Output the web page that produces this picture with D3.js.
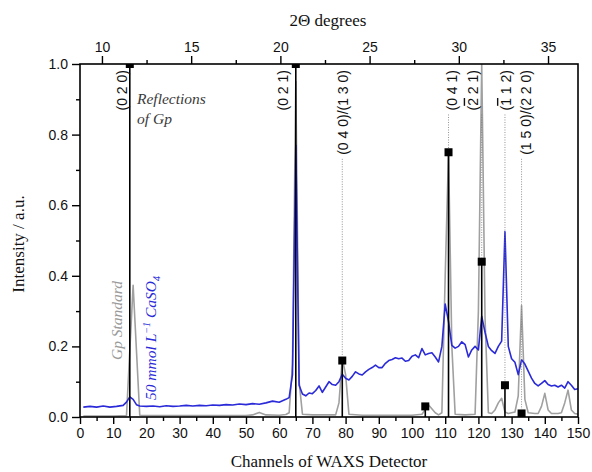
<!DOCTYPE html>
<html>
<head>
<meta charset="utf-8">
<script src="https://cdn.jsdelivr.net/npm/d3@7/dist/d3.min.js"></script>
<style>
  html, body { margin: 0; padding: 0; background: #fff; }
  svg { display: block; }
</style>
</head>
<body>
<svg id="chart" width="592" height="472"></svg>
<script>
// ---------------- DATA ----------------
// Gp standard (gray line): channel / normalised intensity
const gpChannels = [1, 6, 10, 14, 16, 18, 22, 30, 40, 50, 52, 54, 56, 60, 62, 63, 64, 65, 66, 67, 70, 77, 78, 79, 80, 81, 85, 90, 100, 103, 105, 107, 108, 109, 110, 111, 112, 113, 116, 119, 120, 121, 122, 123, 124, 125, 126, 127, 128, 129, 130, 131, 132, 133, 134, 135, 137, 138, 139, 140, 141, 142, 144, 145, 146, 147, 148, 149, 150];
const gpValues   = [0.003, 0.003, 0.003, 0.004, 0.373, 0.005, 0.004, 0.004, 0.004, 0.004, 0.006, 0.013, 0.006, 0.005, 0.007, 0.012, 0.15, 0.95, 0.1, 0.008, 0.006, 0.006, 0.04, 0.166, 0.12, 0.008, 0.005, 0.005, 0.005, 0.008, 0.034, 0.012, 0.006, 0.012, 0.4, 0.75, 0.2, 0.008, 0.006, 0.008, 0.3, 1.0, 0.28, 0.012, 0.01, 0.02, 0.04, 0.053, 0.014, 0.01, 0.012, 0.014, 0.06, 0.316, 0.05, 0.012, 0.01, 0.01, 0.03, 0.067, 0.02, 0.01, 0.01, 0.012, 0.04, 0.076, 0.02, 0.01, 0.008];

// 50 mmol/L CaSO4 sample (blue line)
const caChannels = [1, 3, 5, 7, 9, 11, 13, 14, 15, 16, 17, 18, 20, 22, 24, 26, 28, 30, 32, 34, 36, 38, 40, 42, 44, 46, 48, 50, 52, 54, 56, 58, 60, 62, 63, 64, 65, 66, 67, 68, 69, 70, 71, 72, 73, 74, 75, 76, 77, 78, 79, 80, 81, 82, 83, 84, 85, 86, 87, 88, 89, 90, 91, 92, 93, 94, 95, 96, 97, 98, 99, 100, 101, 102, 103, 104, 105, 106, 107, 108, 109, 110, 111, 112, 113, 114, 115, 116, 117, 118, 119, 120, 121, 122, 123, 124, 125, 126, 127, 128, 129, 130, 131, 132, 133, 134, 135, 136, 137, 138, 139, 140, 141, 142, 143, 144, 145, 146, 147, 148, 149, 150];
const caValues   = [0.028, 0.03, 0.028, 0.031, 0.028, 0.03, 0.033, 0.042, 0.057, 0.05, 0.035, 0.031, 0.03, 0.031, 0.029, 0.032, 0.03, 0.031, 0.033, 0.031, 0.033, 0.032, 0.034, 0.033, 0.035, 0.034, 0.037, 0.035, 0.038, 0.036, 0.04, 0.045, 0.042, 0.05, 0.055, 0.12, 0.77, 0.09, 0.065, 0.06, 0.068, 0.066, 0.075, 0.088, 0.07, 0.085, 0.1, 0.092, 0.09, 0.1, 0.121, 0.11, 0.105, 0.115, 0.128, 0.122, 0.119, 0.128, 0.135, 0.14, 0.147, 0.14, 0.14, 0.152, 0.16, 0.163, 0.168, 0.165, 0.167, 0.158, 0.16, 0.172, 0.176, 0.168, 0.194, 0.176, 0.18, 0.182, 0.17, 0.156, 0.2, 0.32, 0.27, 0.203, 0.195, 0.2, 0.213, 0.205, 0.17, 0.19, 0.2, 0.19, 0.285, 0.24, 0.2, 0.188, 0.18, 0.2, 0.215, 0.525, 0.2, 0.165, 0.155, 0.12, 0.162, 0.15, 0.13, 0.11, 0.095, 0.088, 0.095, 0.103, 0.092, 0.088, 0.09, 0.085, 0.09, 0.082, 0.1, 0.09, 0.078, 0.08];

// Reflections of Gp (stick pattern)
const refChannels = [15, 65, 79, 104, 111, 121, 128, 133];
const refValues   = [1.0, 1.0, 0.16, 0.03, 0.75, 0.44, 0.09, 0.01];

// hkl labels: label text parts [text, overline?] and reflection channel
const hklChannels = [15, 65, 79, 111, 121, 128, 133];
const hklLabels = [
  [["(0 2 0)", false]],
  [["(0 2 1)", false]],
  [["(0 4 0)/(1 3 0)", false]],
  [["(0 4 1)", false]],
  [["(", false], ["2", true], [" 2 1)", false]],
  [["(", false], ["1", true], [" 1 2)", false]],
  [["(1 5 0)/(2 2 0)", false]]
];
const hklDotted = [false, false, true, true, true, true, true];

// axis ticks
const xTicks = d3.range(0, 151, 10);
const xMinor = d3.range(5, 150, 10);
const yTicks = [0, 0.2, 0.4, 0.6, 0.8, 1.0];
const yMinor = [0.1, 0.3, 0.5, 0.7, 0.9];
const tTicks = [10, 15, 20, 25, 30, 35];
const tMinor = [12.5, 17.5, 22.5, 27.5, 32.5];

// ---------------- LAYOUT ----------------
const L = 80, R = 578, T = 64, B = 417;
const svg = d3.select("#chart");
const x = d3.scaleLinear().domain([0, 150]).range([L, R]);
const y = d3.scaleLinear().domain([0, 1]).range([B, T]);
const x2 = d3.scaleLinear().domain([8.77, 36.68]).range([L, R]);

const sans = "'Liberation Sans', Arial, sans-serif";
const serif = "'Liberation Serif', 'DejaVu Serif', serif";

svg.append("defs").append("clipPath").attr("id", "clip")
  .append("rect").attr("x", L).attr("y", T).attr("width", R - L).attr("height", B - T);

const plot = svg.append("g").attr("clip-path", "url(#clip)");

const line = d3.line().x(d => x(d[0])).y(d => y(d[1]));

plot.append("path")
  .datum(gpChannels.map((c, i) => [c, gpValues[i]]))
  .attr("d", line).attr("fill", "none").attr("stroke", "#a0a0a0").attr("stroke-width", 1.6)
  .attr("stroke-linejoin", "round");

plot.append("path")
  .datum(caChannels.map((c, i) => [c, caValues[i]]))
  .attr("d", line).attr("fill", "none").attr("stroke", "#2a2ad8").attr("stroke-width", 1.6)
  .attr("stroke-linejoin", "round");

// sticks
plot.selectAll("line.stick").data(refChannels).enter().append("line")
  .attr("x1", d => x(d)).attr("x2", d => x(d))
  .attr("y1", y(0)).attr("y2", (d, i) => y(refValues[i]))
  .attr("stroke", "#000").attr("stroke-width", 1.6);

plot.selectAll("rect.mk").data(refChannels).enter().append("rect")
  .attr("x", d => x(d) - 4).attr("y", (d, i) => y(refValues[i]) - 4)
  .attr("width", 8).attr("height", 8).attr("fill", "#000");

// hkl labels
const labelTop = 70;
const labelDx = [-3, -8, 6, 8, -4, 6, 9];
hklLabels.forEach((parts, i) => {
  const lx = x(hklChannels[i]) + labelDx[i];
  const t = svg.append("text")
    .attr("transform", `translate(${lx},${labelTop}) rotate(-90)`)
    .attr("text-anchor", "end")
    .attr("font-family", sans).attr("font-size", 14).attr("fill", "#111");
  parts.forEach(p => {
    const ts = t.append("tspan").text(p[0]);
    if (p[1]) ts.style("text-decoration", "overline");
  });
  if (hklDotted[i]) {
    const len = t.node().getComputedTextLength();
    const ri = refChannels.indexOf(hklChannels[i]);
    svg.append("line")
      .attr("x1", x(hklChannels[i])).attr("x2", x(hklChannels[i]))
      .attr("y1", labelTop + len + 4).attr("y2", y(refValues[ri]) - 4)
      .attr("stroke", "#777").attr("stroke-width", 0.8).attr("stroke-dasharray", "1,1.5");
  }
});

// in-plot legend texts
const refl = svg.append("text").attr("font-family", serif).attr("font-style", "italic")
  .attr("font-size", 15.5).attr("fill", "#3a3a3a");
refl.append("tspan").attr("x", 137).attr("y", 104).text("Reflections");
refl.append("tspan").attr("x", 137).attr("y", 124).text("of Gp");

svg.append("text").attr("transform", "translate(122,360) rotate(-90)")
  .attr("font-family", serif).attr("font-style", "italic").attr("font-size", 15.5)
  .attr("fill", "#9a9a9a").text("Gp Standard");

const ca = svg.append("text").attr("transform", "translate(156,400) rotate(-90)")
  .attr("font-family", serif).attr("font-style", "italic").attr("font-size", 15.5)
  .attr("fill", "#2a2ad8");
ca.append("tspan").text("50 mmol L");
ca.append("tspan").attr("dy", -6).attr("font-size", 10).text("\u22121");
ca.append("tspan").attr("dy", 6).text(" CaSO");
ca.append("tspan").attr("dy", 4).attr("font-size", 10).text("4");

// ---------------- AXES ----------------
function styleAxis(g) {
  g.select(".domain").remove();
  g.selectAll(".tick line").attr("stroke", "#000").attr("stroke-width", 1.4);
  g.selectAll(".tick text").attr("font-family", sans).attr("font-size", 14).attr("fill", "#111");
}

// bottom
svg.append("g").attr("transform", `translate(0,${B})`)
  .call(d3.axisBottom(x).tickValues(xTicks).tickSize(7).tickPadding(4).tickFormat(d3.format("d")))
  .call(styleAxis);
svg.append("g").attr("transform", `translate(0,${B})`)
  .call(d3.axisBottom(x).tickValues(xMinor).tickSize(4).tickFormat(""))
  .call(styleAxis);
// left
svg.append("g").attr("transform", `translate(${L},0)`)
  .call(d3.axisLeft(y).tickValues(yTicks).tickSize(8).tickPadding(4).tickFormat(d3.format(".1f")))
  .call(styleAxis);
svg.append("g").attr("transform", `translate(${L},0)`)
  .call(d3.axisLeft(y).tickValues(yMinor).tickSize(4).tickFormat(""))
  .call(styleAxis);
// top
svg.append("g").attr("transform", `translate(0,${T})`)
  .call(d3.axisTop(x2).tickValues(tTicks).tickSize(8).tickPadding(4).tickFormat(d3.format("d")))
  .call(styleAxis);
svg.append("g").attr("transform", `translate(0,${T})`)
  .call(d3.axisTop(x2).tickValues(tMinor).tickSize(4).tickFormat(""))
  .call(styleAxis);

// frame
svg.append("rect").attr("x", L).attr("y", T).attr("width", R - L).attr("height", B - T)
  .attr("fill", "none").attr("stroke", "#000").attr("stroke-width", 1.6);

// titles
svg.append("text").attr("x", 329).attr("y", 467).attr("text-anchor", "middle")
  .attr("font-family", serif).attr("font-size", 17).attr("fill", "#111")
  .text("Channels of WAXS Detector");
svg.append("text").attr("x", 328).attr("y", 26).attr("text-anchor", "middle")
  .attr("font-family", serif).attr("font-size", 17).attr("fill", "#111")
  .text("2\u0398 degrees");
svg.append("text").attr("transform", "translate(24,244) rotate(-90)").attr("text-anchor", "middle")
  .attr("font-family", serif).attr("font-size", 17).attr("fill", "#111")
  .text("Intensity / a.u.");
</script>
</body>
</html>
